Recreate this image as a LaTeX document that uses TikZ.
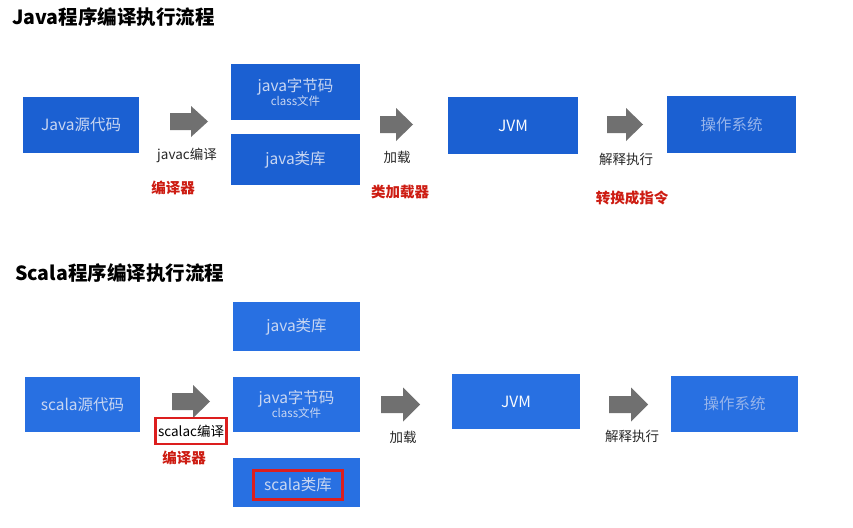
\documentclass[tikz,border=0pt]{standalone}
\usepackage{fontspec}
\setmainfont{Noto Sans CJK SC}
\definecolor{boxA}{RGB}{27,96,210}
\definecolor{boxB}{RGB}{40,112,226}
\definecolor{boxtxt}{RGB}{200,214,242}
\definecolor{ostxt}{RGB}{150,180,235}
\definecolor{arrowgray}{RGB}{112,112,112}
\definecolor{redtxt}{RGB}{205,28,18}
\definecolor{redframe}{RGB}{220,30,30}
\definecolor{labtxt}{RGB}{40,40,40}
\tikzset{
  box/.style={fill=#1, inner sep=0pt, align=center, text=boxtxt, font=\fontsize{15.5}{18}\selectfont},
  lab/.style={text=labtxt, inner sep=1pt, font=\fontsize{13.5}{16}\selectfont},
  redlab/.style={text=redtxt, inner sep=1pt, font=\bfseries\fontsize{14.5}{17}\selectfont},
  title/.style={anchor=west, inner sep=0pt, text=black, font=\bfseries\fontsize{19.5}{22}\selectfont},
  pics/bigarrow/.style args={#1/#2}{code={
    \fill[arrowgray] (0,-8.5) -- (#1-17,-8.5) -- (#1-17,-#2) -- (#1,0) -- (#1-17,#2) -- (#1-17,8.5) -- (0,8.5) -- cycle;}}
}
\newcommand{\smallcls}{\fontsize{11.5}{13}\selectfont}
\begin{document}
\begin{tikzpicture}[x=1pt,y=-1pt]
\useasboundingbox[fill=white] (0,0) rectangle (853,527);

% ---------- Java section ----------
\node[title] (t1) at (12,17) {Java程序编译执行流程};

\node[box=boxA, minimum width=116pt, minimum height=56pt] (jsrc) at (81,125) {Java源代码};
\node[box=boxA, minimum width=129pt, minimum height=56pt] (jbyte) at (295.5,92)
  {java字节码\\[-4pt]{\smallcls class文件}};
\node[box=boxA, minimum width=129pt, minimum height=51pt] (jlib) at (295.5,159.5) {java类库};
\node[box=boxA, minimum width=130pt, minimum height=57pt, text=white!90!boxtxt] (jvm1) at (513,125.5) {JVM};
\node[box=boxA, minimum width=129pt, minimum height=57pt, text=ostxt] (os1) at (731.5,124.5) {操作系统};

\pic at (170,121.5) {bigarrow={38/15.5}};
\pic at (380,124.5) {bigarrow={33/16.5}};
\pic at (607,124.5) {bigarrow={36/16.5}};

\node[lab] (l1) at (187,155) {javac编译};
\node[redlab] (r1) at (173,188) {编译器};
\node[lab] (l2) at (397,157) {加载};
\node[redlab] (r2) at (400,192) {类加载器};
\node[lab] (l3) at (626,159) {解释执行};
\node[redlab] (r3) at (632,198) {转换成指令};

% ---------- Scala section ----------
\node[title] (t2) at (15,273) {Scala程序编译执行流程};

\node[box=boxB, minimum width=127pt, minimum height=49pt] (slib) at (296.5,326.5) {java类库};
\node[box=boxB, minimum width=115pt, minimum height=55pt] (ssrc) at (82.5,404.5) {scala源代码};
\node[box=boxB, minimum width=127pt, minimum height=55pt] (sbyte) at (296.5,404.5)
  {java字节码\\[-4pt]{\smallcls class文件}};
\node[box=boxB, minimum width=127pt, minimum height=49pt] (sslib) at (296.5,482.5) {};
\node[draw=redframe, line width=2.4pt, minimum width=89pt, minimum height=29pt, inner sep=0pt,
      text=boxtxt, font=\fontsize{15.5}{18}\selectfont] (sslibt) at (298,485) {scala类库};
\node[box=boxB, minimum width=128pt, minimum height=55pt, text=white!90!boxtxt] (jvm2) at (516,401.5) {JVM};
\node[box=boxB, minimum width=127pt, minimum height=56pt, text=ostxt] (os2) at (734.5,404) {操作系统};

\pic at (172,401.5) {bigarrow={38/16.5}};
\pic at (381,404.5) {bigarrow={39/17}};
\pic at (609,404.5) {bigarrow={39/17}};

\node[lab, draw=redframe, line width=2.4pt, fill=white, minimum width=71pt, minimum height=26pt, inner sep=0pt, text=black] (l4) at (191,431) {scalac编译};
\node[redlab] (r4) at (184,458) {编译器};
\node[lab] (l5) at (403,437) {加载};
\node[lab] (l6) at (632,436) {解释执行};
\end{tikzpicture}
\end{document}
